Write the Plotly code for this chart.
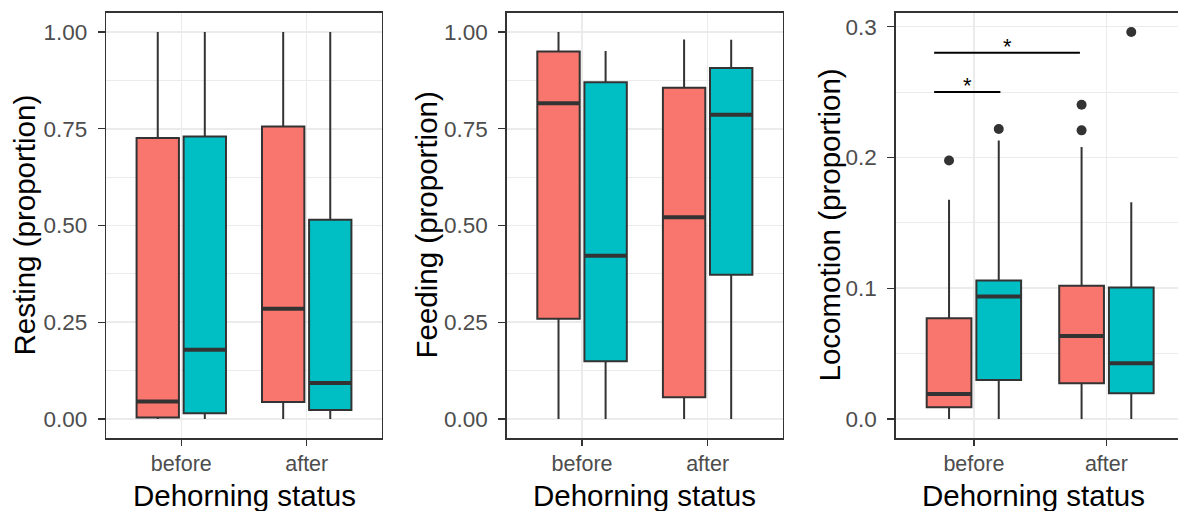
import plotly.graph_objects as go

# ---------------- data ----------------
STATUS = ["before", "after"]
GROUP_COLORS = ["#F8766D", "#00BFC4"]  # fill groups (red, teal)

# each stat array: [red group, teal group] x [before, after]
resting_lower = [[0.0, 0.0], [0.0, 0.0]]
resting_q1 = [[0.004, 0.044], [0.015, 0.023]]
resting_median = [[0.045, 0.285], [0.179, 0.093]]
resting_q3 = [[0.726, 0.756], [0.730, 0.515]]
resting_upper = [[1.0, 1.0], [1.0, 1.0]]
resting_outliers = [[[], []], [[], []]]

feeding_lower = [[0.0, 0.0], [0.0, 0.0]]
feeding_q1 = [[0.259, 0.056], [0.149, 0.373]]
feeding_median = [[0.816, 0.521], [0.422, 0.786]]
feeding_q3 = [[0.950, 0.856], [0.870, 0.907]]
feeding_upper = [[1.0, 0.981], [0.951, 0.980]]
feeding_outliers = [[[], []], [[], []]]

loco_lower = [[0.0, 0.0], [0.0, 0.0]]
loco_q1 = [[0.0089, 0.0273], [0.0298, 0.0196]]
loco_median = [[0.0191, 0.0635], [0.0936, 0.0426]]
loco_q3 = [[0.0770, 0.1018], [0.1059, 0.1005]]
loco_upper = [[0.1676, 0.2080], [0.2130, 0.1658]]
loco_outliers = [[[0.1977], [0.2403, 0.2207]], [[0.2217], [0.2959]]]

# significance brackets (x in category index units, 0 = before)
sig_x0 = [-0.3, -0.3]
sig_x1 = [0.2, 0.8]
sig_y = [0.25, 0.28]
sig_label = ["*", "*"]
sig_star_x = [-0.05, 0.25]

Y_TITLES = ["Resting (proportion)", "Feeding (proportion)", "Locomotion (proportion)"]
X_TITLE = "Dehorning status"
Y_TICKS_12 = [0.0, 0.25, 0.5, 0.75, 1.0]
Y_TICKS_3 = [0.0, 0.1, 0.2, 0.3]

# ---------------- style ----------------
W, H = 1178, 511
BOX_W = 0.3375
DODGE = 0.1875
LINE_COL = "#333333"
GRID_COL = "#EBEBEB"
TICK_COL = "#4D4D4D"
FONT = "Liberation Sans, Arial, sans-serif"
XTICK_SIZE = 21.5
YTICK_SIZE = 22.5
TITLE_SIZE = 29.5

X_DOMAINS = [[106 / W, 382 / W], [506.7 / W, 783 / W], [895.7 / W, 1.0]]
X_RANGES = [[-0.6, 1.6], [-0.6, 1.6], [-0.59, 1.54]]
Y_DOMAIN = [(H - 438.3) / H, (H - 12.7) / H]

panels = [
    (resting_lower, resting_q1, resting_median, resting_q3, resting_upper, resting_outliers),
    (feeding_lower, feeding_q1, feeding_median, feeding_q3, feeding_upper, feeding_outliers),
    (loco_lower, loco_q1, loco_median, loco_q3, loco_upper, loco_outliers),
]

fig = go.Figure()

for p, (lo, q1, med, q3, up, outl) in enumerate(panels):
    xa = "x" if p == 0 else f"x{p + 1}"
    ya = "y" if p == 0 else f"y{p + 1}"
    for g in range(2):
        off = (g - 0.5) * 2 * DODGE
        pos = [i + off for i in range(len(STATUS))]
        fig.add_trace(go.Box(
            x=pos, q1=q1[g], median=med[g], q3=q3[g],
            lowerfence=lo[g], upperfence=up[g],
            width=BOX_W, whiskerwidth=0, boxpoints=False,
            fillcolor=GROUP_COLORS[g], line=dict(color=LINE_COL, width=2),
            xaxis=xa, yaxis=ya, showlegend=False, hoverinfo="skip",
        ))
        # thicker median line (ggplot style)
        mx, my = [], []
        for i, xp in enumerate(pos):
            mx += [xp - BOX_W / 2, xp + BOX_W / 2, None]
            my += [med[g][i], med[g][i], None]
        fig.add_trace(go.Scatter(
            x=mx, y=my, mode="lines", line=dict(color=LINE_COL, width=4),
            xaxis=xa, yaxis=ya, showlegend=False, hoverinfo="skip",
        ))
        ox, oy = [], []
        for i, xp in enumerate(pos):
            for v in outl[g][i]:
                ox.append(xp)
                oy.append(v)
        if ox:
            fig.add_trace(go.Scatter(
                x=ox, y=oy, mode="markers",
                marker=dict(color=LINE_COL, size=10),
                xaxis=xa, yaxis=ya, showlegend=False, hoverinfo="skip",
            ))

# significance brackets on panel 3
for k in range(len(sig_y)):
    fig.add_trace(go.Scatter(
        x=[sig_x0[k], sig_x1[k]], y=[sig_y[k], sig_y[k]], mode="lines",
        line=dict(color="black", width=2), xaxis="x3", yaxis="y3",
        showlegend=False, hoverinfo="skip",
    ))
    fig.add_annotation(
        x=sig_star_x[k], y=sig_y[k], xref="x3", yref="y3", text=sig_label[k],
        showarrow=False, yanchor="bottom", yshift=-8,
        font=dict(family=FONT, size=22, color="black"),
    )

# axes
def all_vals(*arrs):
    out = []
    for a in arrs:
        for grp in a:
            for v in grp:
                if isinstance(v, list):
                    out += v
                else:
                    out.append(v)
    return out

for p, (lo, q1, med, q3, up, outl) in enumerate(panels):
    vals = all_vals(lo, up, outl)
    vmin, vmax = min(vals), max(vals)
    span = vmax - vmin
    yr = [vmin - 0.05 * span, vmax + 0.05 * span]
    ticks = Y_TICKS_3 if p == 2 else Y_TICKS_12
    fmt = ".1f" if p == 2 else ".2f"
    minor_dt = 0.05 if p == 2 else 0.125
    sfx = "" if p == 0 else str(p + 1)
    fig.update_layout(**{
        f"xaxis{sfx}": dict(
            domain=X_DOMAINS[p], range=X_RANGES[p], anchor=f"y{sfx}",
            tickvals=list(range(len(STATUS))), ticktext=STATUS,
            showgrid=True, gridcolor=GRID_COL, gridwidth=1.5, zeroline=False,
            ticks="outside", ticklen=6, tickwidth=1.3, tickcolor=LINE_COL,
            showline=True, linecolor=LINE_COL, linewidth=1.3, mirror=True,
            tickfont=dict(family=FONT, size=XTICK_SIZE, color=TICK_COL),
            fixedrange=True,
        ),
        f"yaxis{sfx}": dict(
            domain=Y_DOMAIN, range=yr, anchor=f"x{sfx}",
            tickvals=ticks, tickformat=fmt,
            showgrid=True, gridcolor=GRID_COL, gridwidth=1.5, zeroline=False,
            minor=dict(dtick=minor_dt, tick0=0, showgrid=True, gridcolor=GRID_COL, gridwidth=1, ticks=""),
            ticks="outside", ticklen=7, tickwidth=1.3, tickcolor=LINE_COL,
            ticklabelstandoff=6,
            showline=True, linecolor=LINE_COL, linewidth=1.3, mirror=(p != 2),
            tickfont=dict(family=FONT, size=YTICK_SIZE, color=TICK_COL),
            fixedrange=True,
        ),
    })

# axis titles as annotations
Y_TITLE_X = [24, 426, 829]
for p in range(3):
    fig.add_annotation(
        x=Y_TITLE_X[p] / W, y=sum(Y_DOMAIN) / 2, xref="paper", yref="paper",
        text=Y_TITLES[p], textangle=-90, showarrow=False,
        xanchor="center", yanchor="middle",
        font=dict(family=FONT, size=TITLE_SIZE, color="black"),
    )
    cx = (X_DOMAINS[p][0] + (X_DOMAINS[p][0] + (X_DOMAINS[0][1] - X_DOMAINS[0][0]))) / 2
    fig.add_annotation(
        x=cx, y=16 / H, xref="paper", yref="paper",
        text=X_TITLE, showarrow=False, xanchor="center", yanchor="middle",
        font=dict(family=FONT, size=TITLE_SIZE, color="black"),
    )

fig.update_layout(
    width=W, height=H, margin=dict(l=0, r=0, t=0, b=0),
    plot_bgcolor="white", paper_bgcolor="white", showlegend=False,
    boxmode="overlay", font=dict(family=FONT),
)

fig.write_html(
    "out.html",
    config={"displayModeBar": False, "staticPlot": True},
    post_script="document.body.style.margin='0px';document.body.style.overflow='hidden';",
)
